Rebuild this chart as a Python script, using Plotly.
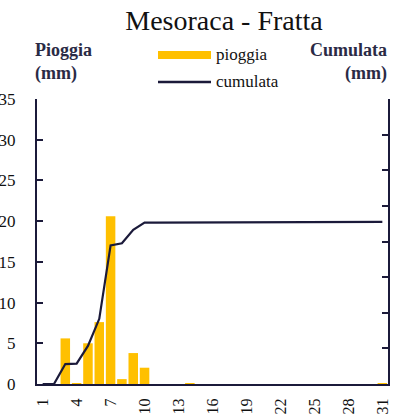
import plotly.graph_objects as go

# Daily rainfall (mm) and running total for the month
days = list(range(1, 32))
pioggia = [0, 0, 5.6, 0.1, 5.0, 7.6, 20.6, 0.6, 3.8, 2.0,
           0, 0, 0, 0.1, 0, 0, 0, 0, 0, 0,
           0, 0, 0, 0, 0, 0, 0, 0, 0, 0, 0.1]
cumulata = [0, 0, 5.6, 5.7, 10.7, 18.3, 38.9, 39.5, 43.3, 45.3,
            45.3, 45.3, 45.3, 45.4, 45.4, 45.4, 45.4, 45.4, 45.4, 45.4,
            45.4, 45.4, 45.4, 45.4, 45.4, 45.4, 45.4, 45.4, 45.4, 45.4, 45.5]
x_ticks = [1, 4, 7, 10, 13, 16, 19, 22, 25, 28, 31]
left_ticks = [0, 5, 10, 15, 20, 25, 30, 35]
right_ticks = [0, 10, 20, 30, 40, 50, 60, 70, 80]

FONT = "Liberation Serif"
DARK = "#1b1a3a"
GOLD = "#FFC000"
TXT = "#111111"

fig = go.Figure()
fig.add_trace(go.Bar(x=days, y=pioggia, name="pioggia", marker_color=GOLD,
                     marker_line_width=0, yaxis="y"))
fig.add_trace(go.Scatter(x=days, y=cumulata, name="cumulata", mode="lines",
                         line=dict(color=DARK, width=2.2), yaxis="y2"))

fig.update_layout(
    width=393, height=417,
    margin=dict(l=37, r=5, t=99, b=33),
    paper_bgcolor="white", plot_bgcolor="white",
    font=dict(family=FONT, color=TXT),
    showlegend=False,
    bargap=0.16,
    title=dict(text="Mesoraca - Fratta", x=0.57, xanchor="center",
               y=0.975, yanchor="top",
               font=dict(size=28, family=FONT, color=TXT)),
    xaxis=dict(range=[0.5, 31.5], tickmode="array", tickvals=x_ticks,
               ticktext=[str(v) for v in x_ticks], tickangle=-90,
               showline=True, linecolor=DARK, linewidth=2, ticks="",
               showgrid=False, zeroline=False, automargin=False,
               tickfont=dict(size=16, family=FONT, color=TXT),
               ticklabelstandoff=6),
    yaxis=dict(range=[0, 35], tickmode="array", tickvals=left_ticks,
               showline=True, linecolor=DARK, linewidth=2,
               ticks="inside", ticklen=6, tickwidth=2, tickcolor=DARK,
               showgrid=False, zeroline=False, automargin=False,
               tickfont=dict(size=17, family=FONT, color=TXT),
               ticklabelstandoff=16),
    yaxis2=dict(range=[0, 80], tickmode="array", tickvals=right_ticks,
                overlaying="y", side="right",
                showline=True, linecolor=DARK, linewidth=2,
                ticks="inside", ticklen=6, tickwidth=2, tickcolor=DARK,
                showgrid=False, zeroline=False, automargin=False,
                showticklabels=False),
)

# Axis captions
fig.add_annotation(text="<b>Pioggia<br>(mm)</b>", xref="paper", yref="paper",
                   x=-0.012, y=1.215, xanchor="left", yanchor="top",
                   align="left", showarrow=False,
                   font=dict(size=18, family=FONT, color="#2a2a45"))
fig.add_annotation(text="<b>Cumulata<br>(mm)</b>", xref="paper", yref="paper",
                   x=1.003, y=1.215, xanchor="right", yanchor="top",
                   align="right", showarrow=False,
                   font=dict(size=18, family=FONT, color="#2a2a45"))

# Legend drawn as swatches with labels
fig.add_shape(type="rect", xref="paper", yref="paper",
              x0=(158 - 37) / 351, x1=(211 - 37) / 351,
              y0=(384 - 59) / 285, y1=(384 - 51) / 285,
              fillcolor=GOLD, line_width=0)
fig.add_shape(type="line", xref="paper", yref="paper",
              x0=(158 - 37) / 351, x1=(211 - 37) / 351,
              y0=(384 - 82) / 285, y1=(384 - 82) / 285,
              line=dict(color=DARK, width=2.5))
fig.add_annotation(text="pioggia", xref="paper", yref="paper",
                   x=(214 - 37) / 351, y=(384 - 55) / 285,
                   xanchor="left", yanchor="middle", showarrow=False,
                   font=dict(size=17, family=FONT, color=TXT))
fig.add_annotation(text="cumulata", xref="paper", yref="paper",
                   x=(214 - 37) / 351, y=(384 - 81) / 285,
                   xanchor="left", yanchor="middle", showarrow=False,
                   font=dict(size=17, family=FONT, color=TXT))

fig.write_html("out.html")
